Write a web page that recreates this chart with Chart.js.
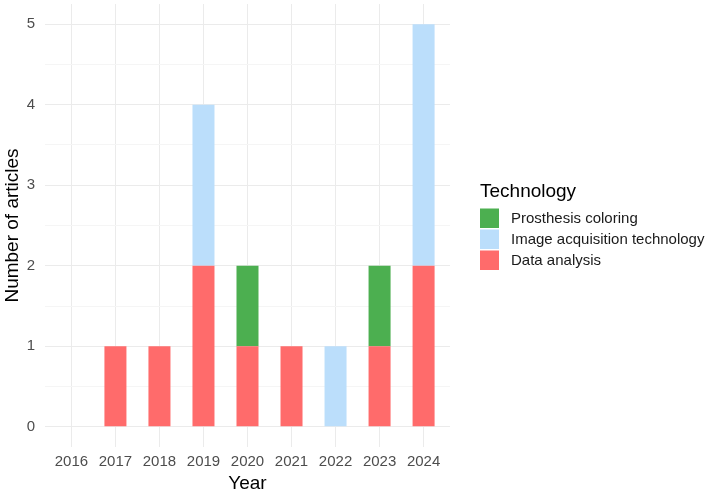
<!DOCTYPE html>
<html><head><meta charset="utf-8">
<script src="https://cdn.jsdelivr.net/npm/chart.js@4/dist/chart.umd.min.js"></script>
<style>html,body{margin:0;padding:0;background:#fff}#wrap{width:714px;height:496px;position:relative}</style>
</head><body><div id="wrap"><canvas id="c" width="714" height="496"></canvas></div>
<script>
// ---- data ----
const years = ['2016','2017','2018','2019','2020','2021','2022','2023','2024'];
const dataAnalysis       = [0,1,1,2,1,1,0,1,2];
const imageAcquisition   = [0,0,0,2,0,0,1,0,3];
const prosthesisColoring = [0,0,0,0,1,0,0,1,0];
const seriesNames = ['Data analysis','Image acquisition technology','Prosthesis coloring'];
const yTicks = [0,1,2,3,4,5];
const legendTitle = 'Technology';
const xTitle = 'Year';
const yTitle = 'Number of articles';

// ---- styles ----
const colors = ['#FF6B6B','#BBDEFB','#4CAF50'];
const FONT = '"Liberation Sans", Arial, sans-serif';
const tickColor = '#4d4d4d';

function toPoints(arr){ return arr.map((v,i)=>({x:i,y:v})); }
const seriesValues = [dataAnalysis, imageAcquisition, prosthesisColoring];

function noPad(s){ s.paddingTop = 0; s.paddingBottom = 0; s.paddingLeft = 0; s.paddingRight = 0; }

const legendPlugin = {
  id:'ggLegend',
  afterDraw(chart){
    const ctx = chart.ctx;
    ctx.save();
    ctx.fillStyle = '#000';
    ctx.font = '19px ' + FONT;
    ctx.textAlign = 'left';
    ctx.textBaseline = 'alphabetic';
    ctx.fillText(legendTitle, 480, 197);
    const ds = chart.data.datasets.slice().reverse();
    ds.forEach((d,i)=>{
      const y = 208.5 + i*21;
      ctx.fillStyle = d.backgroundColor;
      ctx.fillRect(480, y, 19, 19.5);
      ctx.fillStyle = '#1a1a1a';
      ctx.font = '15px ' + FONT;
      ctx.textBaseline = 'middle';
      ctx.fillText(d.label, 511, y + 10);
    });
    ctx.restore();
  }
};

new Chart(document.getElementById('c'), {
  type:'bar',
  data:{
    datasets: seriesNames.map((n,k)=>({
      label:n,
      data: toPoints(seriesValues[k]),
      backgroundColor: colors[k],
      borderWidth:0,
      barPercentage:0.5,
      categoryPercentage:1.0
    }))
  },
  options:{
    responsive:false,
    animation:false,
    devicePixelRatio:1,
    layout:{padding:{top:4,right:264,left:0,bottom:0}},
    plugins:{legend:{display:false},tooltip:{enabled:false}},
    scales:{
      x:{
        type:'linear', stacked:true, min:-0.6, max:8.6, offset:false,
        afterBuildTicks(s){ s.ticks = years.map((_,i)=>({value:i})); },
        afterFit(s){ s.height = 49; noPad(s); },
        ticks:{ callback:(v)=>years[v], color:tickColor, font:{family:FONT,size:15}, padding:6, maxRotation:0, autoSkip:false },
        grid:{ color:'#ebebeb', lineWidth:1, drawTicks:false, offset:false },
        border:{display:false},
        title:{ display:true, text:xTitle, color:'#000', font:{family:FONT,size:19}, padding:{top:0,bottom:1} }
      },
      y:{
        stacked:true, min:-0.25, max:5.25,
        afterBuildTicks(s){
          const t=[]; yTicks.forEach((v,i)=>{ t.push({value:v}); if(i<yTicks.length-1) t.push({value:v+0.5}); });
          s.ticks = t;
        },
        afterFit(s){ s.width = 45; noPad(s); },
        ticks:{ callback:(v)=> (Number.isInteger(v)? String(v):''), color:tickColor, font:{family:FONT,size:15}, padding:10 },
        grid:{ color:(c)=> (c.tick && Number.isInteger(c.tick.value) ? '#ebebeb' : '#f5f5f5'), lineWidth:1, drawTicks:false },
        border:{display:false},
        title:{ display:true, text:yTitle, color:'#000', font:{family:FONT,size:19}, padding:{top:1,bottom:0} }
      }
    }
  },
  plugins:[legendPlugin]
});
</script></body></html>
